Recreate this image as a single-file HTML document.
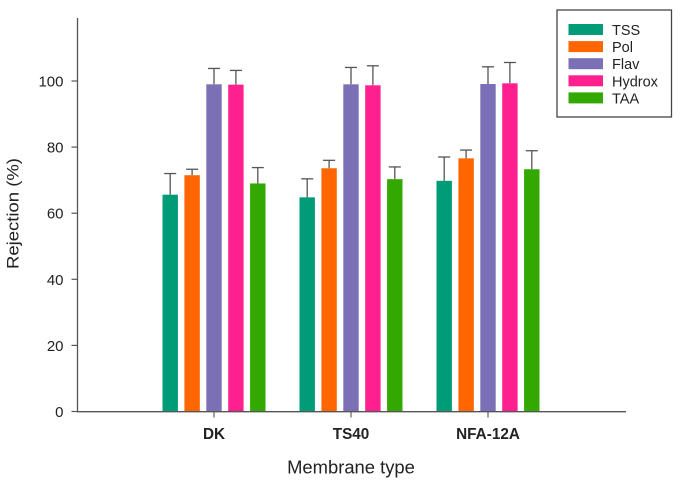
<!DOCTYPE html>
<html>
<head>
<meta charset="utf-8">
<style>
html,body{margin:0;padding:0;background:#fff;}
svg{display:block;font-family:"Liberation Sans",sans-serif;}
</style>
</head>
<body>
<svg id="chart" width="680" height="486" viewBox="0 0 680 486" xmlns="http://www.w3.org/2000/svg"></svg>
<script>
const categories = ['DK', 'TS40', 'NFA-12A'];
const seriesNames = ['TSS', 'Pol', 'Flav', 'Hydrox', 'TAA'];
const tssValues = [65.6, 64.8, 69.8];
const polValues = [71.5, 73.6, 76.6];
const flavValues = [99.0, 99.0, 99.1];
const hydroxValues = [98.9, 98.7, 99.3];
const taaValues = [69.0, 70.3, 73.3];
const tssErrors = [6.4, 5.6, 7.2];
const polErrors = [1.8, 2.4, 2.5];
const flavErrors = [4.8, 5.1, 5.2];
const hydroxErrors = [4.3, 5.9, 6.3];
const taaErrors = [4.8, 3.7, 5.6];
const yTicks = [0, 20, 40, 60, 80, 100];

const seriesValues = [tssValues, polValues, flavValues, hydroxValues, taaValues];
const seriesErrors = [tssErrors, polErrors, flavErrors, hydroxErrors, taaErrors];
const seriesColors = ['#009b77', '#ff6600', '#7b70b5', '#ff2090', '#33a800'];
const axisColor = '#555';
const textColor = '#222';
const svg = document.getElementById('chart');
const NS = 'http://www.w3.org/2000/svg';

function yScale(v) { return 411.5 - v * 3.305; }
function xCenter(i) { return 214 + i * 137; }
function barCenter(i, s) { return xCenter(i) + (s - 2) * 21.9; }

function add(tag, attrs, text) {
  const el = document.createElementNS(NS, tag);
  for (const k in attrs) el.setAttribute(k, attrs[k]);
  if (text !== undefined) el.textContent = text;
  svg.appendChild(el);
  return el;
}

seriesValues.forEach(function (values, s) {
  values.forEach(function (v, i) {
    const cx = barCenter(i, s);
    const top = yScale(v + seriesErrors[s][i]);
    const stem = add('line', { x1: cx, x2: cx, y1: top, y2: yScale(v), stroke: axisColor, 'stroke-width': 1.3 });
    
    
    const cap = add('line', { x1: cx - 6, x2: cx + 6, y1: top, y2: top, stroke: axisColor, 'stroke-width': 1.3 });
    
    
    const bar = add('rect', { x: cx - 7.7, y: yScale(v), width: 15.4, height: yScale(0) - yScale(v), fill: seriesColors[s] });
    
    
  });
});

const yAxis = add('line', { x1: 77.5, x2: 77.5, y1: 18, y2: 412, stroke: axisColor, 'stroke-width': 1.3 });


const xAxis = add('line', { x1: 77, x2: 626, y1: 411.7, y2: 411.7, stroke: axisColor, 'stroke-width': 1.3 });



yTicks.forEach(function (t) {
  const tick = add('line', { x1: 71.5, x2: 77.5, y1: yScale(t), y2: yScale(t), stroke: axisColor, 'stroke-width': 1.2 });
  
  
  const label = add('text', { x: 63.5, y: yScale(t) + 5.5, 'text-anchor': 'end', 'font-size': 15, fill: textColor }, String(t));
  
  
});

categories.forEach(function (c, i) {
  const tick = add('line', { x1: xCenter(i), x2: xCenter(i), y1: 411.5, y2: 417.5, stroke: axisColor, 'stroke-width': 1.1 });
  
  
  const label = add('text', { x: xCenter(i), y: 439, 'text-anchor': 'middle', 'font-size': 15.3, 'font-weight': 'bold', fill: textColor }, c);
  
  
});

const yTitle = add('text', { x: 0, y: 0, transform: 'translate(18.5 213.5) rotate(-90) scale(1 0.88)', 'text-anchor': 'middle', 'font-size': 18.5, fill: textColor }, 'Rejection (%)');


const xTitle = add('text', { x: 351, y: 473.5, 'text-anchor': 'middle', 'font-size': 18.4, fill: textColor }, 'Membrane type');



const legendBox = add('rect', { x: 557, y: 10, width: 114.5, height: 107, fill: '#fff', stroke: '#444', 'stroke-width': 1.3 });


seriesNames.forEach(function (n, s) {
  const top = 24 + s * 17.1;
  const swatch = add('rect', { x: 568.5, y: top, width: 34.5, height: 11, fill: seriesColors[s] });
  
  
  const label = add('text', { x: 612, y: top + 11, 'font-size': 14.5, fill: textColor }, n);
  
  
});
</script>
</body>
</html>
